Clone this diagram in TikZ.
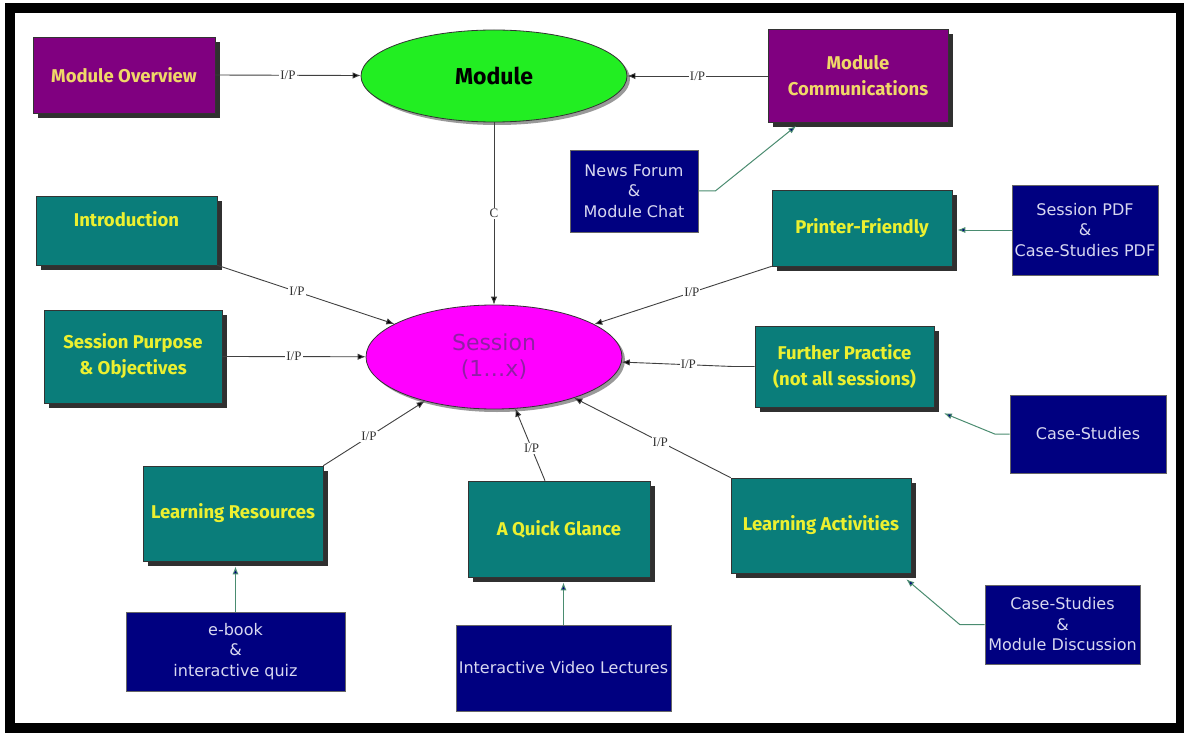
\documentclass[tikz,border=0pt]{standalone}
\usepackage{fontspec}
\setmainfont{Liberation Serif}
\newfontfamily\titlefont{Fira Sans}
\newfontfamily\plainfont{DejaVu Sans}
\usetikzlibrary{shapes.geometric,shadows,arrows.meta,calc}

\definecolor{modpurple}{HTML}{800080}
\definecolor{modteal}{HTML}{0A7D7A}
\definecolor{modnavy}{HTML}{000080}
\definecolor{modgreen}{HTML}{22EE22}
\definecolor{modmagenta}{HTML}{FF00FF}
\definecolor{shadowgray}{HTML}{303030}
\definecolor{paleyellow}{HTML}{F0D868}
\definecolor{brightyellow}{HTML}{ECF030}
\definecolor{lavender}{HTML}{D8D8F0}
\definecolor{sessiontext}{HTML}{9020A4}
\definecolor{linkgreen}{HTML}{4A8C70}
\definecolor{linkgray}{HTML}{404040}

\begin{document}
\begin{tikzpicture}[x=1pt,y=-1pt,
  box/.style={rectangle, draw=black!80, line width=0.6pt, inner sep=2pt, align=center},
  shadowed/.style={drop shadow={shadow xshift=5pt, shadow yshift=-5pt, fill=shadowgray, opacity=1}},
  titletext/.style={font=\titlefont\bfseries\fontsize{18.5}{26}\selectfont},
  purplebox/.style={box, shadowed, titletext, fill=modpurple, text=paleyellow},
  tealbox/.style={box, shadowed, titletext, fill=modteal, text=brightyellow},
  navybox/.style={box, draw=black!60, fill=modnavy, text=lavender,
    font=\plainfont\fontsize{16}{20.5}\selectfont},
  oval/.style={ellipse, draw=black!80, line width=0.8pt, inner sep=0pt,
    drop shadow={shadow xshift=3pt, shadow yshift=-3pt, fill=gray!80, opacity=1}},
  link/.style={draw=linkgray, line width=0.9pt, -{Latex[length=8pt,width=6.5pt,fill=black]}},
  feed/.style={draw=linkgreen, line width=1pt, -{Latex[length=8pt,width=6pt,fill=modnavy]},
    shorten >=5pt},
  tag/.style={fill=white, inner sep=1pt, text=black!80, font=\fontsize{13}{14}\selectfont}
]
\useasboundingbox (0,0) rectangle (1184,733);
\fill[white] (0,0) rectangle (1184,733);
\draw[line width=9.5pt, black] (10,8) rectangle (1181,728);

% central ovals
\node[oval, fill=modgreen, minimum width=266pt, minimum height=92pt,
  font=\titlefont\bfseries\fontsize{23}{26}\selectfont] (module) at (494,76) {Module};
\node[oval, fill=modmagenta, minimum width=256pt, minimum height=104pt, align=center,
  text=sessiontext, font=\plainfont\fontsize{22}{26}\selectfont] (session) at (494,357) {Session\\(1\dots x)};

% purple boxes
\node[purplebox, minimum width=182pt, minimum height=76pt] (mo) at (124,75) {Module Overview};
\node[purplebox, minimum width=180pt, minimum height=93pt] (mc) at (858,76) {Module\\Communications};

% teal boxes
\node[tealbox, minimum width=181pt, minimum height=69pt] (intro) at (126.5,230.5) {Introduction\\[-2pt]~};
\node[tealbox, minimum width=178pt, minimum height=93pt] (spo) at (133,356.5) {Session Purpose\\\& Objectives};
\node[tealbox, minimum width=180pt, minimum height=76pt] (pf) at (862,228) {Printer-Friendly};
\node[tealbox, minimum width=179pt, minimum height=81pt] (fp) at (844.5,366.5) {Further Practice\\(not all sessions)};
\node[tealbox, minimum width=180pt, minimum height=95pt] (lr) at (233,513.5) {Learning Resources};
\node[tealbox, minimum width=182pt, minimum height=96pt] (qg) at (559,529) {A Quick Glance};
\node[tealbox, minimum width=180pt, minimum height=95pt] (la) at (821,525.5) {Learning Activities};

% navy boxes
\node[navybox, minimum width=128pt, minimum height=82pt] (nf) at (634,191) {News Forum\\\&\\Module Chat};
\node[navybox, minimum width=146pt, minimum height=90pt] (spdf) at (1085,230) {Session PDF\\\&\\Case-Studies PDF};
\node[navybox, minimum width=156pt, minimum height=78pt] (cs) at (1088,434) {Case-Studies};
\node[navybox, minimum width=219pt, minimum height=79pt] (eb) at (235.5,651.5) {e-book\\\&\\interactive quiz};
\node[navybox, minimum width=215pt, minimum height=86pt] (ivl) at (563.5,668) {Interactive Video Lectures};
\node[navybox, minimum width=155pt, minimum height=79pt] (csmd) at (1062.5,624.5) {Case-Studies\\\&\\Module Discussion};

% inputs to the module
\draw[link] (mo.east) -- node[tag] {I/P} (module);
\draw[link] (mc.west) -- node[tag] {I/P} (module);
\draw[link] (module) -- node[tag, pos=0.5] {C} (session);

% inputs to the session
\draw[link] (intro.south east) -- node[tag, pos=0.45] {I/P} (session);
\draw[link] (pf.south west) -- node[tag, pos=0.45] {I/P} (session);
\draw[link] (spo.east) -- node[tag] {I/P} (session);
\draw[link] (fp.west) -- ++(-22,0) -- node[tag, pos=0.4] {I/P} (session);
\draw[link] (lr.north east) -- node[tag, pos=0.45] {I/P} (session);
\draw[link] ($(qg.north)+(-14,0)$) -- node[tag, pos=0.45] {I/P} (session);
\draw[link] (la.north west) -- node[tag, pos=0.45] {I/P} (session);

% supporting material
\draw[feed] (nf.east) -- ++(17,0) -- (mc);
\draw[feed] (spdf.west) -- (pf.east |- spdf.west);
\draw[feed] (cs.west) -- ++(-15,0) -- ($(fp.south east)+(5,4)$);
\draw[feed] (eb.north) -- (eb.north |- lr.south);
\draw[feed] (ivl.north) -- (ivl.north |- qg.south);
\draw[feed, shorten >=0pt] (csmd.west) -- ++(-25,0) -- ($(la.south east)+(-5,6)$);
\end{tikzpicture}
\end{document}
